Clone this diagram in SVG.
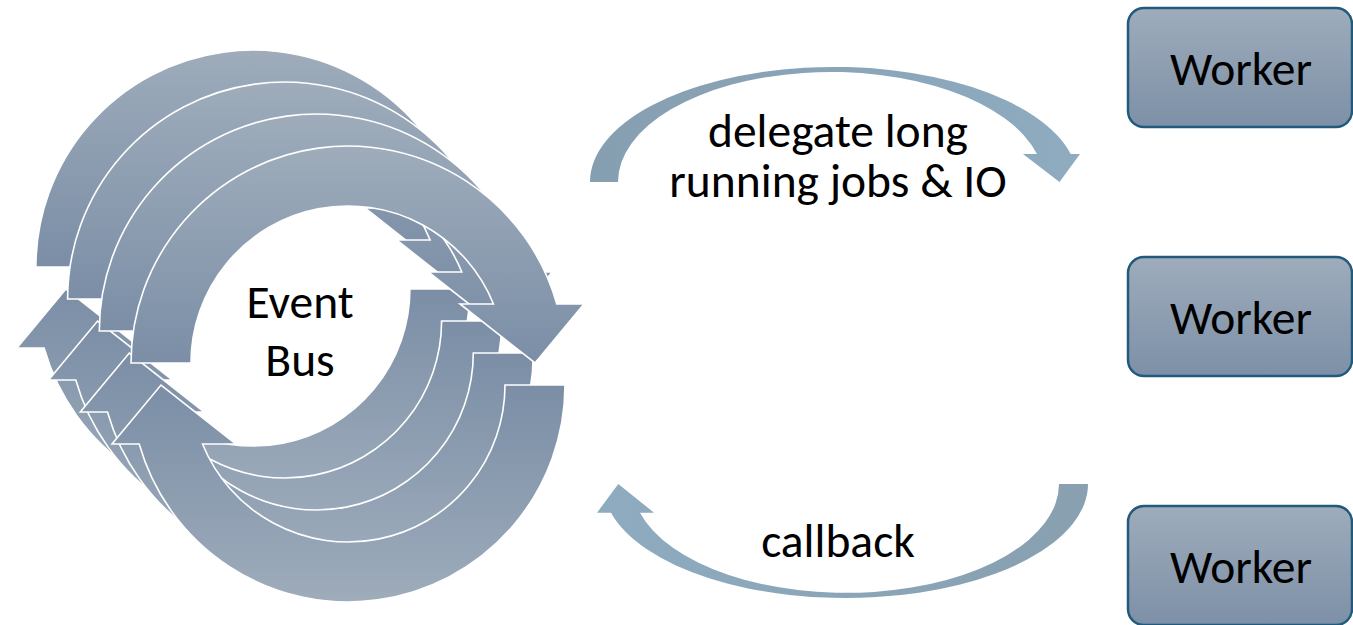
<svg xmlns="http://www.w3.org/2000/svg" width="1353" height="625" viewBox="0 0 1353 625">
<style>
.ta{fill:url(#gTop);stroke:#fff;stroke-width:1.6}
.ba{fill:url(#gBot);stroke:#fff;stroke-width:1.6}
.box{fill:url(#gBox);stroke:#215a7c;stroke-width:2.5}
.t{font-family:Carlito,Lato,"Open Sans",sans-serif;font-size:47.5px;fill:#000;text-anchor:middle}
</style>
<defs>
<linearGradient id="gTop" x1="0" y1="0" x2="0" y2="1">
<stop offset="0" stop-color="#9eacbb"/><stop offset="1" stop-color="#7b8ea6"/>
</linearGradient>
<linearGradient id="gBot" x1="0" y1="0" x2="0" y2="1">
<stop offset="0" stop-color="#7b8ea6"/><stop offset="1" stop-color="#9eacbb"/>
</linearGradient>
<linearGradient id="gBox" x1="0" y1="0" x2="0" y2="1">
<stop offset="0" stop-color="#9eacbb"/><stop offset="1" stop-color="#7d90a7"/>
</linearGradient>
<linearGradient id="gDel" x1="0" y1="0" x2="1" y2="0">
<stop offset="0" stop-color="#869fb0"/><stop offset="1" stop-color="#8eabc0"/>
</linearGradient>
<linearGradient id="gCb" x1="0" y1="0" x2="1" y2="0">
<stop offset="0" stop-color="#8eabc0"/><stop offset="1" stop-color="#88a0b0"/>
</linearGradient>
<path id="topArc" d="M -217 0 A 217 217 0 0 1 208.8 -59 L 236 -59 L 187 0 L 112 -59 L 145.5 -59 A 157 157 0 0 0 -157 0 Z"/>
<path id="botArc" d="M 217 0 A 217 217 0 0 1 -208.8 59 L -236 59 L -187 0 L -112 59 L -145.5 59 A 157 157 0 0 0 157 0 Z"/>
</defs>
<rect width="1353" height="625" fill="#fff"/>
<g id="event-bus">
<g transform="translate(252.9,267)"><use href="#topArc" class="ta"/><use href="#botArc" class="ba" transform="translate(0,22)"/></g>
<g transform="translate(284.6,299)"><use href="#topArc" class="ta"/><use href="#botArc" class="ba" transform="translate(0,22)"/></g>
<g transform="translate(316.3,331)"><use href="#topArc" class="ta"/><use href="#botArc" class="ba" transform="translate(0,22)"/></g>
<g transform="translate(348,363)"><use href="#topArc" class="ta"/><use href="#botArc" class="ba" transform="translate(0,22)"/></g>
<text class="t" x="300" y="318">Event</text>
<text class="t" x="300" y="376">Bus</text>
</g>
<g id="worker-1"><rect class="box" x="1128" y="8" width="224" height="119" rx="16"/><text class="t" x="1241" y="85">Worker</text></g>
<g id="worker-2"><rect class="box" x="1128" y="257" width="224" height="119" rx="16"/><text class="t" x="1241" y="334">Worker</text></g>
<g id="worker-3"><rect class="box" x="1128" y="506" width="224" height="119" rx="16"/><text class="t" x="1241" y="583">Worker</text></g>
<g id="connectors">
<path fill="url(#gDel)" d="M 590 182 A 244 115 0 0 1 1070.7 154 L 1080 154 L 1059.5 182 L 1023 154 L 1037 154 A 213 110 0 0 0 618 182 Z"/>
<path fill="url(#gCb)" d="M 1088 484 A 242.4 114 0 0 1 611 512.7 L 597 512.7 L 618.3 484 L 654 512.7 L 640 512.7 A 213.3 109 0 0 0 1059 484 Z"/>
<text class="t" x="838" y="147">delegate long</text>
<text class="t" x="838" y="197">running jobs &amp; IO</text>
<text class="t" x="838" y="557">callback</text>
</g>
</svg>
